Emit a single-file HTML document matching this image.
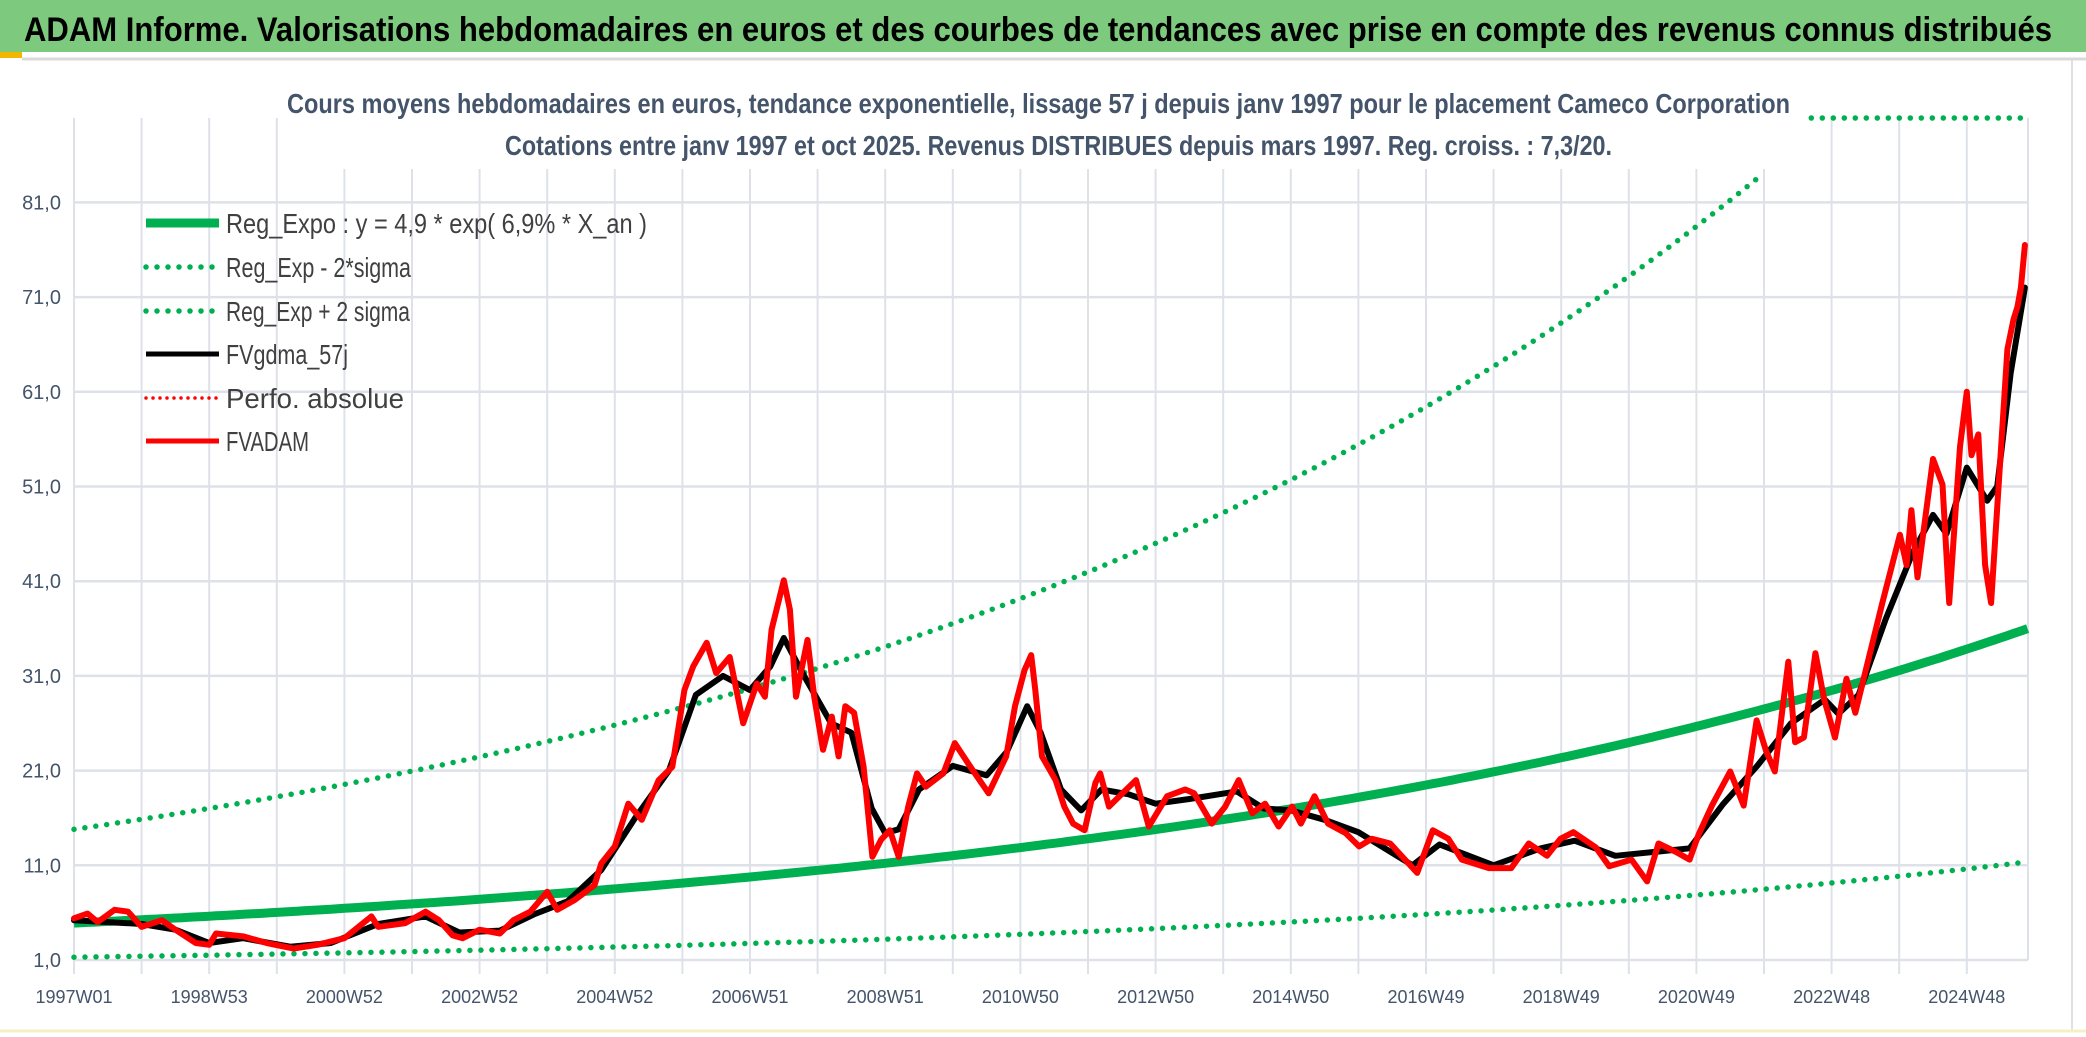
<!DOCTYPE html>
<html><head><meta charset="utf-8">
<style>
html,body{margin:0;padding:0;background:#fff;}
svg{display:block;}
text{font-family:"Liberation Sans",sans-serif;}
</style></head>
<body>
<svg id="chart" width="2086" height="1037" viewBox="0 0 2086 1037" xmlns="http://www.w3.org/2000/svg">
  <rect x="0" y="0" width="2086" height="1037" fill="#fff"/>
  <rect x="0" y="0" width="2086" height="52" fill="#7DC97D"/>
  <rect x="0" y="52" width="22" height="6" fill="#F2B800"/>
  <line x1="22" y1="59" x2="2086" y2="59" stroke="#D9D9D9" stroke-width="3"/>
  <line x1="2072" y1="60" x2="2072" y2="1030" stroke="#E0E0E0" stroke-width="2"/>
  <line x1="0" y1="1031" x2="2086" y2="1031" stroke="#F5EFC8" stroke-width="3"/>
  <text x="24" y="41" font-size="34" font-weight="bold" fill="#000" textLength="2028" lengthAdjust="spacingAndGlyphs">ADAM Informe. Valorisations hebdomadaires en euros et des courbes de tendances avec prise en compte des revenus connus distribués</text>
  <g id="grid"></g>
  <rect x="285" y="62" width="1525" height="107" fill="#fff"/>
  <text x="287" y="113" font-size="28" font-weight="bold" fill="#44546A" textLength="1503" lengthAdjust="spacingAndGlyphs">Cours moyens hebdomadaires en euros, tendance exponentielle, lissage 57 j depuis janv 1997 pour le placement Cameco Corporation</text>
  <text x="505" y="155" font-size="28" font-weight="bold" fill="#44546A" textLength="1107" lengthAdjust="spacingAndGlyphs">Cotations entre janv 1997 et oct 2025. Revenus DISTRIBUES depuis mars 1997. Reg. croiss. : 7,3/20.</text>
  <g id="axes"></g>
  <g id="series"></g>
  <g id="legend"></g>
</svg>
<script>
// ---- data ----
const yTicks = [1, 11, 21, 31, 41, 51, 61, 71, 81];
const yTickLabels = ["1,0","11,0","21,0","31,0","41,0","51,0","61,0","71,0","81,0"];
const xTickYears = [1997,1999,2001,2003,2005,2007,2009,2011,2013,2015,2017,2019,2021,2023,2025];
const xTickLabels = ["1997W01","1998W53","2000W52","2002W52","2004W52","2006W51","2008W51","2010W50","2012W50","2014W50","2016W49","2018W49","2020W49","2022W48","2024W48"];
// trend parameters: [coefficient, annual rate]
const regExpo = [4.9, 0.069];
const regLow = [1.3, 0.075];
const regHigh = [14.8, 0.0695];
const regStart = 1997.0;
const regEnd = 2025.9;
// FVADAM weekly values (year, value)
const adamYears = [1997.0,1997.2,1997.35,1997.6,1997.8,1998.0,1998.3,1998.5,1998.8,1999.0,1999.1,1999.5,1999.85,2000.25,2000.6,2001.0,2001.4,2001.5,2001.9,2002.2,2002.4,2002.6,2002.75,2003.0,2003.3,2003.5,2003.75,2004.0,2004.15,2004.4,2004.7,2004.8,2005.0,2005.2,2005.4,2005.65,2005.85,2006.03,2006.16,2006.36,2006.5,2006.7,2006.9,2007.1,2007.22,2007.32,2007.5,2007.59,2007.68,2007.85,2007.95,2008.08,2008.21,2008.31,2008.41,2008.54,2008.68,2008.81,2008.94,2009.07,2009.2,2009.34,2009.47,2009.6,2009.86,2010.03,2010.26,2010.53,2010.79,2010.92,2011.06,2011.16,2011.22,2011.32,2011.52,2011.65,2011.78,2011.95,2012.11,2012.18,2012.31,2012.51,2012.71,2012.9,2013.17,2013.44,2013.57,2013.83,2014.03,2014.23,2014.43,2014.62,2014.82,2015.02,2015.15,2015.35,2015.55,2015.81,2016.01,2016.2,2016.47,2016.87,2017.1,2017.33,2017.53,2017.93,2018.26,2018.52,2018.79,2018.99,2019.18,2019.51,2019.71,2020.04,2020.27,2020.44,2020.7,2020.9,2021.03,2021.23,2021.5,2021.7,2021.89,2022.03,2022.16,2022.36,2022.46,2022.59,2022.76,2022.89,2023.05,2023.22,2023.35,2023.55,2023.75,2024.01,2024.11,2024.18,2024.27,2024.5,2024.64,2024.74,2024.9,2025.0,2025.07,2025.17,2025.27,2025.36,2025.46,2025.6,2025.69,2025.75,2025.8,2025.86];
const adamValues = [5.4,5.9,5.0,6.3,6.1,4.5,5.2,4.2,2.8,2.6,3.8,3.5,2.8,2.2,2.6,3.3,5.6,4.5,4.9,6.1,5.2,3.6,3.3,4.2,3.8,5.2,6.1,8.2,6.3,7.3,8.9,11.2,13.0,17.5,15.8,20.0,21.4,29.5,32.0,34.5,31.3,33.0,26.0,30.2,28.8,35.9,41.1,38.0,28.8,34.8,28.8,23.2,26.7,22.5,27.8,27.1,21.4,11.9,13.7,14.7,11.9,17.2,20.7,19.3,20.7,23.9,21.4,18.6,22.5,27.8,31.6,33.2,29.5,22.5,20.0,17.2,15.4,14.7,19.7,20.7,17.2,18.6,20.0,15.1,18.3,19.0,18.6,15.4,17.2,20.0,16.5,17.5,15.1,17.2,15.4,18.3,15.4,14.4,13.0,13.8,13.3,10.2,14.7,13.8,11.6,10.7,10.7,13.3,12.0,13.8,14.5,12.9,10.9,11.6,9.3,13.3,12.4,11.6,14.2,17.3,20.9,17.3,26.3,23.1,20.9,32.5,24.0,24.5,33.4,28.5,24.5,30.7,27.1,32.9,38.7,45.9,42.7,48.5,41.4,53.9,51.2,38.7,55.2,61.0,54.3,56.5,42.7,38.7,49.9,65.5,68.6,70.0,72.0,76.5];
// FVgdma_57j smoothed values
const gdmaYears = [1997.0,1998.0,1998.5,1999.0,1999.5,2000.2,2000.8,2001.5,2002.2,2002.7,2003.3,2003.8,2004.3,2004.8,2005.3,2005.8,2006.2,2006.6,2007.0,2007.3,2007.5,2007.8,2008.2,2008.5,2008.8,2009.0,2009.2,2009.5,2010.0,2010.5,2010.8,2011.1,2011.3,2011.6,2011.9,2012.2,2012.6,2013.0,2013.5,2014.2,2014.6,2015.0,2015.5,2016.0,2016.8,2017.2,2018.0,2018.7,2019.2,2019.8,2020.5,2020.9,2021.4,2021.9,2022.4,2022.9,2023.1,2023.4,2023.8,2024.2,2024.5,2024.7,2025.0,2025.3,2025.45,2025.65,2025.86];
const gdmaValues = [5.2,4.8,4.2,2.8,3.3,2.4,2.8,4.8,5.6,3.9,4.1,5.8,7.2,10.5,16.0,21.0,29.0,31.0,29.5,32.0,35.0,31.0,26.0,25.0,17.0,14.4,14.8,19.0,21.5,20.5,23.0,27.8,25.0,19.0,16.8,19.0,18.5,17.5,18.0,18.8,17.0,16.8,15.8,14.5,11.0,13.2,11.0,12.8,13.6,12.0,12.5,12.8,17.5,21.5,26.0,28.5,27.0,29.0,37.0,44.0,48.0,46.0,53.0,49.5,51.0,63.0,72.0];
const legendLabels = ["Reg_Expo : y = 4,9 * exp( 6,9% *  X_an )","Reg_Exp - 2*sigma","Reg_Exp + 2 sigma","FVgdma_57j","Perfo. absolue","FVADAM"];

// ---- layout ----
const NS = "http://www.w3.org/2000/svg";
const plotL = 74, plotR = 2028, plotT = 118, plotB = 960;
const x0Year = 1997.0, pxPerYear = 67.6;
const vMin = 1, pxPerUnit = 9.47;
function xs(yr){ return plotL + (yr - x0Year) * pxPerYear; }
function ys(v){ return plotB - (v - vMin) * pxPerUnit; }
function mk(tag, attrs, parent){ const e = document.createElementNS(NS, tag); for (const k in attrs) e.setAttribute(k, attrs[k]); parent.appendChild(e); return e; }

const grid = document.getElementById('grid');
for (let i = 0; i <= 28; i++) {
  const x = xs(x0Year + i);
  const gl = mk('line', {x1:x, y1:plotT, x2:x, y2:plotB+14, stroke:'#DEE2E8', 'stroke-width':2}, grid);
  
  
}
const rl = mk('line', {x1:plotR, y1:plotT, x2:plotR, y2:plotB, stroke:'#DEE2E8', 'stroke-width':2}, grid);


yTicks.forEach(v => {
  const gl = mk('line', {x1:plotL, y1:ys(v), x2:plotR, y2:ys(v), stroke:'#DEE2E8', 'stroke-width':2.5}, grid);
  
  
});

const axes = document.getElementById('axes');
yTicks.forEach((v, i) => {
  const t = mk('text', {x:61, y:ys(v)+7, 'font-size':20, fill:'#44546A', 'text-anchor':'end'}, axes);
  t.textContent = yTickLabels[i];
  
  
});
xTickYears.forEach((yr, i) => {
  const t = mk('text', {x:xs(yr), y:1003, 'font-size':18, fill:'#44546A', 'text-anchor':'middle'}, axes);
  t.textContent = xTickLabels[i];
  
  
});

const series = document.getElementById('series');
function trendPts(p, from, to, maxV){
  const pts = [];
  for (let yr = from; yr <= to + 1e-9; yr += 0.1) {
    const v = p[0] * Math.exp(p[1] * (yr - regStart));
    if (maxV !== undefined && v > maxV) break;
    pts.push(xs(yr).toFixed(1) + ',' + ys(v).toFixed(1));
  }
  return pts.join(' ');
}
const dotted = {fill:'none', stroke:'#00B050', 'stroke-width':5.5, 'stroke-linecap':'round', 'stroke-dasharray':'0 11'};
const low = mk('polyline', Object.assign({points: trendPts(regLow, regStart, regEnd)}, dotted), series);


const high = mk('polyline', Object.assign({points: trendPts(regHigh, regStart, regEnd, 84.5)}, dotted), series);


let capStart = regStart;
while (regHigh[0] * Math.exp(regHigh[1] * (capStart - regStart)) < 88.3 && capStart < regEnd) capStart += 0.05;
const highCap = mk('polyline', Object.assign({points: xs(capStart).toFixed(1)+','+plotT+' '+xs(regEnd).toFixed(1)+','+plotT}, dotted), series);


const reg = mk('polyline', {points: trendPts(regExpo, regStart, regEnd), fill:'none', stroke:'#00B050', 'stroke-width':9, 'stroke-linejoin':'round'}, series);



function seriesPts(xsArr, vsArr){ return xsArr.map((yr, i) => xs(yr).toFixed(1) + ',' + ys(vsArr[i]).toFixed(1)).join(' '); }
const gdma = mk('polyline', {points: seriesPts(gdmaYears, gdmaValues), fill:'none', stroke:'#000', 'stroke-width':6, 'stroke-linejoin':'round', 'stroke-linecap':'round'}, series);


const adam = mk('polyline', {points: seriesPts(adamYears, adamValues), fill:'none', stroke:'#FF0000', 'stroke-width':6, 'stroke-linejoin':'round', 'stroke-linecap':'round'}, series);



// ---- legend ----
const legend = document.getElementById('legend');
const rowsY = [223, 267, 311, 354, 398, 441];
const textLens = [421, 185, 184, 122, 178, 83];
const styles = [
  {stroke:'#00B050', 'stroke-width':9},
  {stroke:'#00B050', 'stroke-width':5.5, 'stroke-linecap':'round', 'stroke-dasharray':'0 11'},
  {stroke:'#00B050', 'stroke-width':5.5, 'stroke-linecap':'round', 'stroke-dasharray':'0 11'},
  {stroke:'#000', 'stroke-width':5},
  {stroke:'#FF0000', 'stroke-width':3.5, 'stroke-linecap':'round', 'stroke-dasharray':'0 7'},
  {stroke:'#FF0000', 'stroke-width':5}
];
legendLabels.forEach((lab, i) => {
  const g = mk('g', {}, legend);
  
  
  const ln = mk('line', Object.assign({x1:146, y1:rowsY[i], x2:219, y2:rowsY[i]}, styles[i]), g);
  
  
  const t = mk('text', {x:226, y:rowsY[i]+10, 'font-size':28, fill:'#404040', textLength:textLens[i], lengthAdjust:'spacingAndGlyphs'}, g);
  t.textContent = lab;
  
  
});
</script>
</body></html>
